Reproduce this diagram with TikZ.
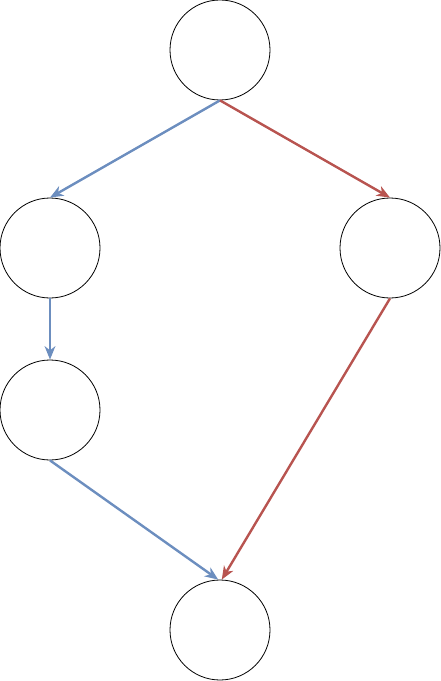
\documentclass[tikz,border=0pt]{standalone}
\usetikzlibrary{arrows.meta}
\definecolor{pathblue}{HTML}{6C8EBF}
\definecolor{pathred}{HTML}{B85450}
\begin{document}
\begin{tikzpicture}[x=0.75pt, y=-0.75pt, >={Stealth[length=10pt,width=8pt,inset=3pt]},
    state/.style={draw, circle, line width=0.6pt, minimum size=75pt, inner sep=0pt},
    bluepath/.style={->, line width=1.8pt, pathblue},
    redpath/.style={->, line width=1.8pt, pathred}]
    \useasboundingbox (0,0) rectangle (441,681);

    \node[state] (top) at (220,50) {};
    \node[state] (left) at (50,248) {};
    \node[state] (right) at (390,248) {};
    \node[state] (lower) at (50,410) {};
    \node[state] (bottom) at (220,630) {};

    % blue branch
    \draw[bluepath] (top.south) -- (left.north);
    \draw[bluepath] (left.south) -- (lower.north);
    \draw[bluepath] (lower.south) -- (bottom.92);

    % red branch
    \draw[redpath] (top.south) -- (right.north);
    \draw[redpath] (right.south) -- (bottom.88);
\end{tikzpicture}
\end{document}
